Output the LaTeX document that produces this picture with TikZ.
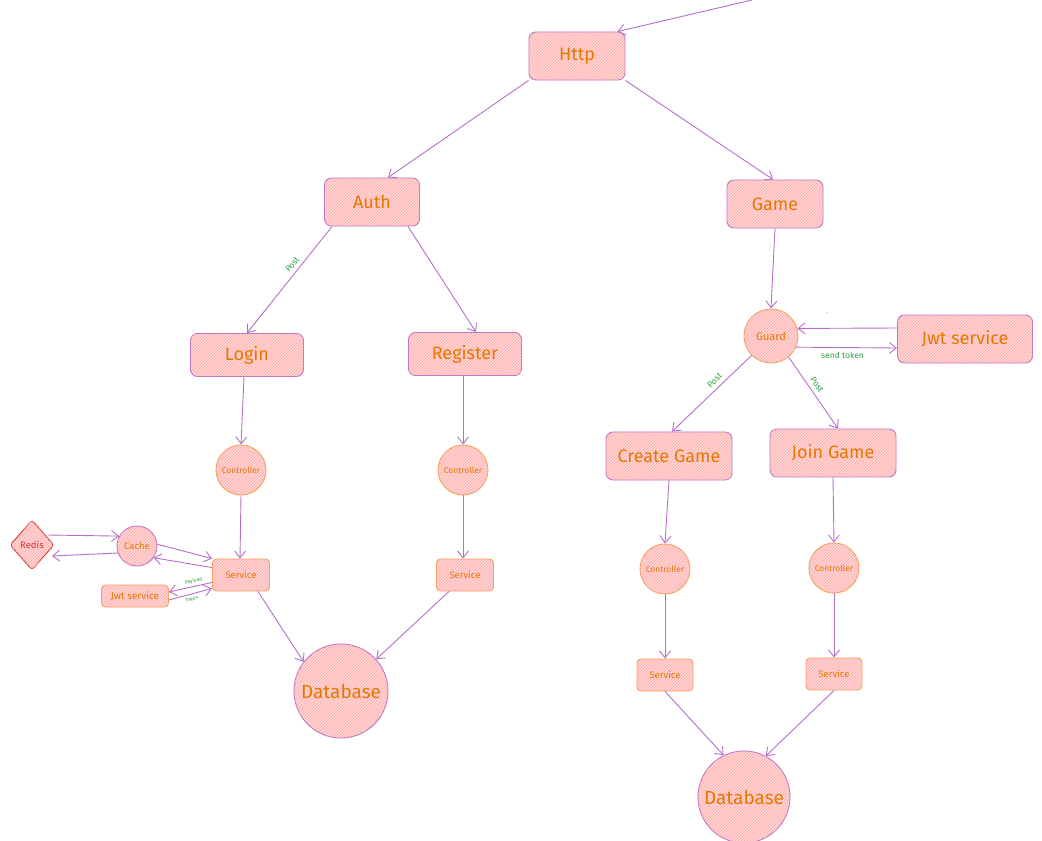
\documentclass[tikz,border=0pt]{standalone}
\usepackage{fontspec}
\setmainfont{Fira Sans}
\usetikzlibrary{arrows.meta,shapes.geometric,patterns}
\definecolor{boxpink}{HTML}{FFD6D6}
\definecolor{hatchpink}{HTML}{FFA8A8}
\definecolor{edgepurple}{HTML}{B56FCB}
\definecolor{txtorange}{HTML}{E67700}
\definecolor{smallorange}{HTML}{F5A050}
\definecolor{lblgreen}{HTML}{2F9E44}
\definecolor{redisred}{HTML}{E03131}
\tikzset{
  hatched/.style={fill=boxpink, postaction={pattern=north east lines, pattern color=hatchpink}},
  bigbox/.style={hatched, draw=edgepurple, line width=0.9pt, rounded corners=7pt, inner sep=0pt,
    text=txtorange, font=\fontsize{18}{20}\selectfont},
  smallbox/.style={hatched, draw=smallorange, line width=0.9pt, rounded corners=4pt, inner sep=0pt,
    text=txtorange, font=\fontsize{9.5}{11}\selectfont},
  ctrl/.style={circle, hatched, draw=smallorange, line width=0.9pt, inner sep=0pt, minimum size=50pt,
    text=txtorange, font=\fontsize{8.5}{10}\selectfont},
  dbnode/.style={circle, hatched, draw=edgepurple, line width=0.9pt, inner sep=0pt,
    text=txtorange, font=\fontsize{19}{21}\selectfont},
  arr/.style={draw=edgepurple, line width=0.9pt, -{Straight Barb[length=7pt,width=11pt]}},
  lbl/.style={text=lblgreen, font=\fontsize{8.5}{10}\selectfont, inner sep=1pt},
  tinylbl/.style={text=lblgreen, font=\fontsize{5}{6}\selectfont, inner sep=0.5pt}
}
\begin{document}
\begin{tikzpicture}[x=1pt,y=-1pt]
\useasboundingbox (0,0) rectangle (1042,841);

% big boxes
\node[bigbox, minimum width=96pt, minimum height=48pt] (http) at (577,56) {Http};
\node[bigbox, minimum width=95pt, minimum height=48pt] (auth) at (372,202) {Auth};
\node[bigbox, minimum width=96pt, minimum height=48pt] (game) at (775,204) {Game};
\node[bigbox, minimum width=113pt, minimum height=43pt] (login) at (247,355) {Login};
\node[bigbox, minimum width=113pt, minimum height=43pt] (register) at (465,354) {Register};
\node[bigbox, minimum width=135pt, minimum height=48pt] (jwt) at (965,339) {Jwt service};
\node[bigbox, minimum width=126pt, minimum height=48pt] (cg) at (669,456) {Create Game};
\node[bigbox, minimum width=126pt, minimum height=48pt] (jg) at (833,453) {Join Game};
\node[circle, hatched, draw=smallorange, line width=0.9pt, inner sep=0pt, minimum size=54pt,
  text=txtorange, font=\fontsize{11}{13}\selectfont] (guard) at (771,336) {Guard};

% controllers
\node[ctrl] (ctrlL) at (241,470) {Controller};
\node[ctrl] (ctrlR) at (463,470) {Controller};
\node[ctrl] (ctrlCG) at (665,569) {Controller};
\node[ctrl] (ctrlJG) at (834,568) {Controller};

% services
\node[smallbox, minimum width=57pt, minimum height=32pt] (svcL) at (241,575) {Service};
\node[smallbox, minimum width=57pt, minimum height=32pt] (svcR) at (465,575) {Service};
\node[smallbox, minimum width=56pt, minimum height=32pt] (svcCG) at (665,675) {Service};
\node[smallbox, minimum width=56pt, minimum height=32pt] (svcJG) at (834,674) {Service};

% databases
\node[dbnode, minimum size=94pt] (dbL) at (341,691) {Database};
\node[dbnode, minimum size=92pt] (dbR) at (744,797) {Database};

% left cluster
\node[circle, hatched, draw=edgepurple, line width=0.9pt, inner sep=0pt, minimum size=40pt,
  text=txtorange, font=\fontsize{9.5}{11}\selectfont] (cache) at (137,546) {Cache};
\node[diamond, hatched, draw=redisred, line width=0.9pt, inner sep=0pt, minimum width=44pt,
  minimum height=50pt, rounded corners=3pt, text=redisred, font=\fontsize{9.5}{11}\selectfont] (redis) at (32,545) {Redis};
\node[smallbox, minimum width=67pt, minimum height=22pt, font=\fontsize{10}{12}\selectfont] (jwts) at (135,596) {Jwt service};

% tiny dot label
\node[lbl, font=\fontsize{6}{7}\selectfont] (dot) at (827,313) {.};

% connectors
\coordinate (topin) at (752,0);
\draw[arr] (topin) -- ([xshift=-8pt]http.north east);
\draw[arr] (http.south west) -- ([xshift=16pt]auth.north);
\draw[arr] (http.south east) -- ([xshift=-2pt]game.north);
\draw[arr] ([xshift=8pt]auth.south west) -- (login.north) node[lbl, sloped, above=3pt, pos=0.4] {Post};
\draw[arr] ([xshift=-12pt]auth.south east) -- ([xshift=11pt]register.north);
\draw[arr] (game.south) -- (guard.north);
\draw[arr] ([yshift=11pt]jwt.west) -- (guard.16);
\draw[arr] (guard.-24) -- ([yshift=-9pt]jwt.west) node[lbl, midway, below=3pt, xshift=-4pt] {send token};
\draw[arr] (guard.-135) -- ([xshift=3pt]cg.north) node[lbl, sloped, above=3pt, pos=0.4] {Post};
\draw[arr] (guard.-50) -- ([xshift=5pt]jg.north) node[lbl, sloped, above=3pt, pos=0.45] {Post};

\draw[arr] ([xshift=-3pt]login.south) -- (ctrlL.north);
\draw[arr] ([xshift=-2pt]register.south) -- (ctrlR.north);
\draw[arr] (ctrlL.south) -- ([xshift=-1pt]svcL.north);
\draw[arr] (ctrlR.south) -- ([xshift=-2pt]svcR.north);
\draw[arr] (cg.south) -- (ctrlCG.north);
\draw[arr] (jg.south) -- (ctrlJG.north);
\draw[arr] (ctrlCG.south) -- (svcCG.north);
\draw[arr] (ctrlJG.south) -- (svcJG.north);

\draw[arr] ([xshift=-12pt]svcL.south east) -- (dbL.142);
\draw[arr] ([xshift=-16pt]svcR.south) -- (dbL.42);
\draw[arr] (svcCG.south) -- (dbR.116);
\draw[arr] (svcJG.south) -- (dbR.62);

\draw[arr] ([xshift=16pt,yshift=10pt]redis.center) -- (cache.151);
\draw[arr] (cache.200) -- ([xshift=20pt,yshift=-11pt]redis.center);
\draw[arr] (cache.5) -- (svcL.north west);
\draw[arr] ([yshift=-9pt]svcL.north west) -- (cache.-35);
\draw[arr] ([yshift=9pt]svcL.south west) -- ([yshift=4pt]jwts.east) node[tinylbl, sloped, above=2pt, pos=0.4] {Payload};
\draw[arr] ([yshift=-4pt]jwts.east) -- ([yshift=3pt]svcL.south west) node[tinylbl, sloped, below=2pt, pos=0.5] {Token};
\end{tikzpicture}
\end{document}
